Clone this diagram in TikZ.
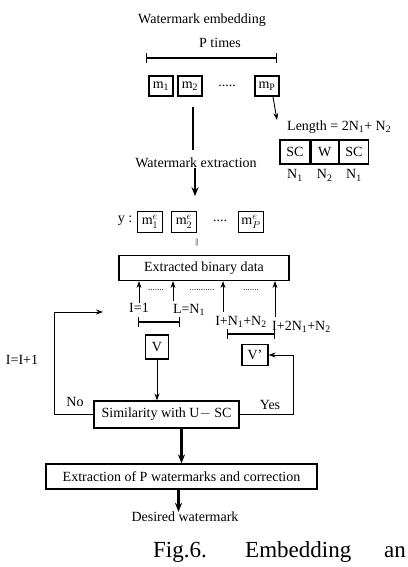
\documentclass[tikz,border=0pt]{standalone}
\usepackage{fontspec}
\setmainfont{Liberation Serif}
\usetikzlibrary{arrows.meta,positioning,calc}

\begin{document}
\begin{tikzpicture}[
    x=1pt, y=-1pt,
    txt/.style={font=\fontsize{14}{16}\selectfont, inner sep=0pt},
    blk/.style={rectangle, draw, line width=1.2pt, align=center, inner sep=1pt, font=\fontsize{14}{16}\selectfont},
    mbox/.style={rectangle, draw, line width=1.2pt, minimum width=24pt, minimum height=20pt, inner sep=0pt, font=\fontsize{14}{15}\selectfont},
    arr/.style={-{Stealth[length=7pt,width=5pt]}, line width=0.9pt},
    bigarr/.style={-{Stealth[length=9pt,width=7pt]}, line width=2.2pt},
    span/.style={{Bar[width=10pt]}-{Bar[width=10pt]}, line width=1.1pt}
]
    \useasboundingbox (0,0) rectangle (407,567);

    % embedding part
    \node [txt] (emb) at (202,20) {Watermark embedding};
    \node [txt] (ptimes) at (220,43) {P times};
    \coordinate (pl) at (146,58);
    \coordinate (pr) at (277,58);
    \draw [span] (pl) -- (pr);

    \node [mbox] (m1) at (161,86) {m\textsubscript{1}};
    \node [mbox] (m2) at (190,86) {m\textsubscript{2}};
    \node [txt] (mdots) at (227,86) {.....};
    \node [mbox, line width=2pt] (mp) at (267,86) {m\textsubscript{P}};

    \node [txt, anchor=west] (len) at (287,127) {Length = 2N\textsubscript{1}+ N\textsubscript{2}};
    \draw [arr] ([xshift=6pt]mp.south) -- ([xshift=-10pt,yshift=7pt]len.west);

    \node [blk, minimum width=30pt, minimum height=24pt] (sc1) at (295,152) {SC};
    \node [blk, minimum width=27pt, minimum height=24pt, right=0pt of sc1] (w) {W};
    \node [blk, minimum width=29pt, minimum height=24pt, right=0pt of w] (sc2) {SC};
    \node [txt, below=5pt of sc1] (n1a) {N\textsubscript{1}};
    \node [txt, below=5pt of w] (n2) {N\textsubscript{2}};
    \node [txt, below=5pt of sc2] (n1b) {N\textsubscript{1}};

    % extraction part
    \coordinate (e1) at (193,107);
    \node [txt] (wext) at (196,163) {Watermark extraction};
    \draw [line width=2.5pt] (e1) -- (e1 |- 0,150);
    \draw [bigarr] ([xshift=-1pt]wext.south) -- ++(0,28);

    \node [txt] (ylab) at (125,221) {y :};
    \node [mbox, minimum width=25pt, minimum height=21pt] (me1) at (150,222) {$\mathrm{m}^{e}_{1}$};
    \node [mbox, minimum width=25pt, minimum height=21pt] (me2) at (184,222) {$\mathrm{m}^{e}_{2}$};
    \node [txt] (medots) at (220,221) {....};
    \node [mbox, minimum width=25pt, minimum height=21pt] (mep) at (251,222) {$\mathrm{m}^{e}_{P}$};
    \node [txt, font=\fontsize{8}{8}\selectfont] (eq) at (197,243) {||};

    \node [blk, minimum width=170pt, minimum height=25pt] (ebd) at (204,268) {Extracted binary data};

    \node [txt] (i1) at (139,308) {I=1};
    \node [txt] (ln) at (189,310) {L=N\textsubscript{1}};
    \node [txt] (in1) at (241,322) {I+N\textsubscript{1}+N\textsubscript{2}};
    \node [txt, anchor=west] (in2) at (272,327) {I+2N\textsubscript{1}+N\textsubscript{2}};

    \coordinate (a2) at (173,301);
    \coordinate (a3) at (223,312);
    \coordinate (a4) at (275,317);
    \draw [arr] (i1.north) -- (i1.north |- ebd.south);
    \draw [arr] (a2) -- (a2 |- ebd.south);
    \draw [arr] (a3) -- (a3 |- ebd.south);
    \draw [arr, line width=0.5pt] (a4) -- (a4 |- ebd.south);

    \node [txt, font=\fontsize{9}{9}\selectfont] (d1) at (156,290) {.......};
    \node [txt, font=\fontsize{9}{9}\selectfont] (d2) at (202,290) {...........};
    \node [txt, font=\fontsize{9}{9}\selectfont] (d3) at (251,290) {.......};

    \coordinate (s1l) at (138,322);
    \coordinate (s1r) at (180,322);
    \coordinate (s2l) at (227,334);
    \coordinate (s2r) at (275,334);
    \draw [span] (s1l) -- (s1r);
    \draw [span] (s2l) -- (s2r);

    \node [blk, minimum width=23pt, minimum height=24pt] (v) at (157,347) {V};
    \node [blk, minimum width=26pt, minimum height=21pt] (vp) at (255,355) {V'};

    \node [blk, minimum width=145pt, minimum height=27pt] (sim) at (166.5,414.5) {Similarity with U$-$ SC};
    \node [txt] (inc) at (22,360) {I=I+1};
    \coordinate (ret) at (103,312);
    \draw [arr] (sim.west) -- ++(-39,0) |- (ret);
    \node [txt] (no) at (75,402) {No};
    \draw [arr] (sim.east) -- ++(54,0) |- (vp.east);
    \node [txt] (yes) at (270,405) {Yes};
    \draw [arr] (v.south) -- (v.south |- sim.north);

    \node [blk, minimum width=271pt, minimum height=25pt] (ext) at (181.5,476.5) {Extraction of P watermarks and correction};
    \draw [bigarr] (ext.north |- sim.south) -- (ext.north);
    \node [txt] (des) at (185,517) {Desired watermark};
    \draw [bigarr] ([xshift=-3pt]ext.south) -- ([xshift=-3pt]ext.south |- des.north);

    % caption
    \node [font=\fontsize{23}{26}\selectfont, anchor=base west, inner sep=0pt] (fig) at (153,557) {Fig.6.};
    \node [font=\fontsize{23}{26}\selectfont, anchor=base west, inner sep=0pt] (capa) at (245,557) {Embedding};
    \node [font=\fontsize{23}{26}\selectfont, anchor=base west, inner sep=0pt] (capb) at (384,557) {an};
\end{tikzpicture}
\end{document}
